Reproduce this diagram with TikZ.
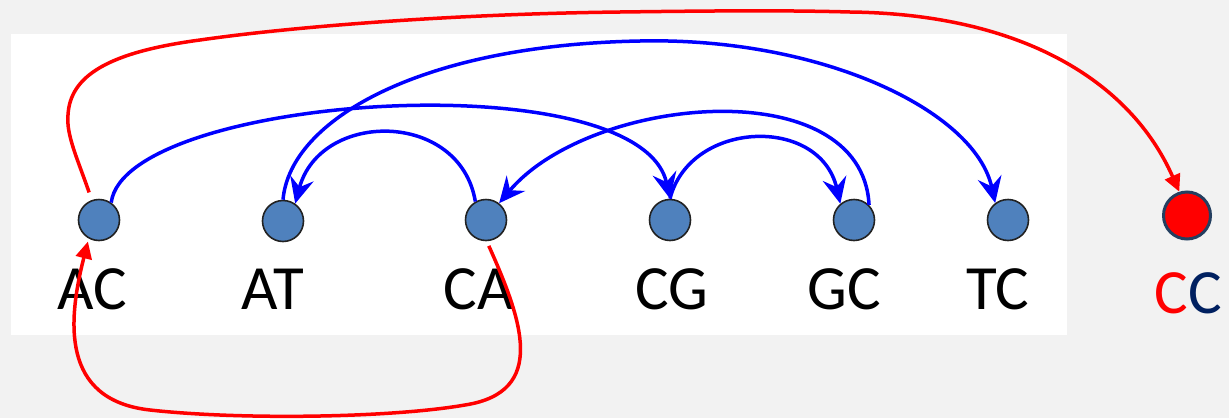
\documentclass[tikz,border=0pt]{standalone}
\usepackage{fontspec}
\setmainfont{Carlito}
\usetikzlibrary{arrows.meta}
\definecolor{bg}{HTML}{F2F2F2}
\definecolor{nodefill}{HTML}{4F81BD}
\definecolor{nodeline}{HTML}{222222}
\definecolor{navy}{HTML}{002060}
\definecolor{ccline}{HTML}{243F60}
\begin{document}
\begin{tikzpicture}[x=1pt,y=-1pt,
  dot/.style={circle, fill=nodefill, draw=nodeline, line width=1.6pt, minimum size=41pt, inner sep=0pt},
  ccdot/.style={circle, fill=red, draw=ccline, line width=3pt, minimum size=47pt, inner sep=0pt},
  lab/.style={anchor=base, font=\fontsize{63}{70}\selectfont, inner sep=0pt},
  bluearc/.style={draw=blue, line width=3.5pt, -{Stealth[length=26pt,width=24pt,inset=9pt]}},
  redarc/.style={draw=red, line width=3.5pt, -{Triangle[length=17pt,width=16pt]}}]
\useasboundingbox (0,0) rectangle (1229,418);
\fill[bg] (0,0) rectangle (1229,418);
\fill[white] (11,34) rectangle (1067,335);
% nodes
\node[dot] (AC) at (99,220) {};
\node[dot] (AT) at (283,221) {};
\node[dot] (CA) at (486,220) {};
\node[dot] (CG) at (670,220) {};
\node[dot] (GC) at (854,220) {};
\node[dot] (TC) at (1008,220) {};
\node[ccdot] (CC) at (1187,215.5) {};
% labels
\node[lab] (lAC) at (92,309) {AC};
\node[lab] (lAT) at (273,309) {AT};
\node[lab] (lCA) at (479,309) {CA};
\node[lab] (lCG) at (672,309) {CG};
\node[lab] (lGC) at (844,309) {GC};
\node[lab] (lTC) at (998,309) {TC};
\node[lab] (lCC) at (1188,313) {{\color{red}C}{\color{navy}C}};
% blue edges
\draw[bluearc] (AC.55) .. controls (125,95) and (640,60) .. (CG.north);
\draw[bluearc] (CG.north) .. controls (690,120) and (820,115) .. (GC.130);
\draw[bluearc] (CA.120) .. controls (460,110) and (320,110) .. (AT.55);
\draw[bluearc] (GC.45) .. controls (862,70) and (590,95) .. (CA.52);
\draw[bluearc] (AT.north) .. controls (290,120) and (420,45) .. (640,41) .. controls (820,37) and (975,110) .. (TC.127);
% red edges
\draw[redarc, shorten <=8pt] (AC.110) .. controls (78,160) and (66,135) .. (68,115) .. controls (70,75) and (110,52) .. (200,40) .. controls (290,27) and (450,14) .. (620,12) .. controls (700,11) and (780,10) .. (850,12) .. controls (1020,14) and (1130,80) .. (CC.108);
\draw[redarc, shorten <=5pt, shorten >=3pt] (CA.-88) .. controls (522,320) and (548,392) .. (465,405) .. controls (390,418) and (240,420) .. (150,410) .. controls (60,400) and (68,320) .. (AC.-119);
\end{tikzpicture}
\end{document}
